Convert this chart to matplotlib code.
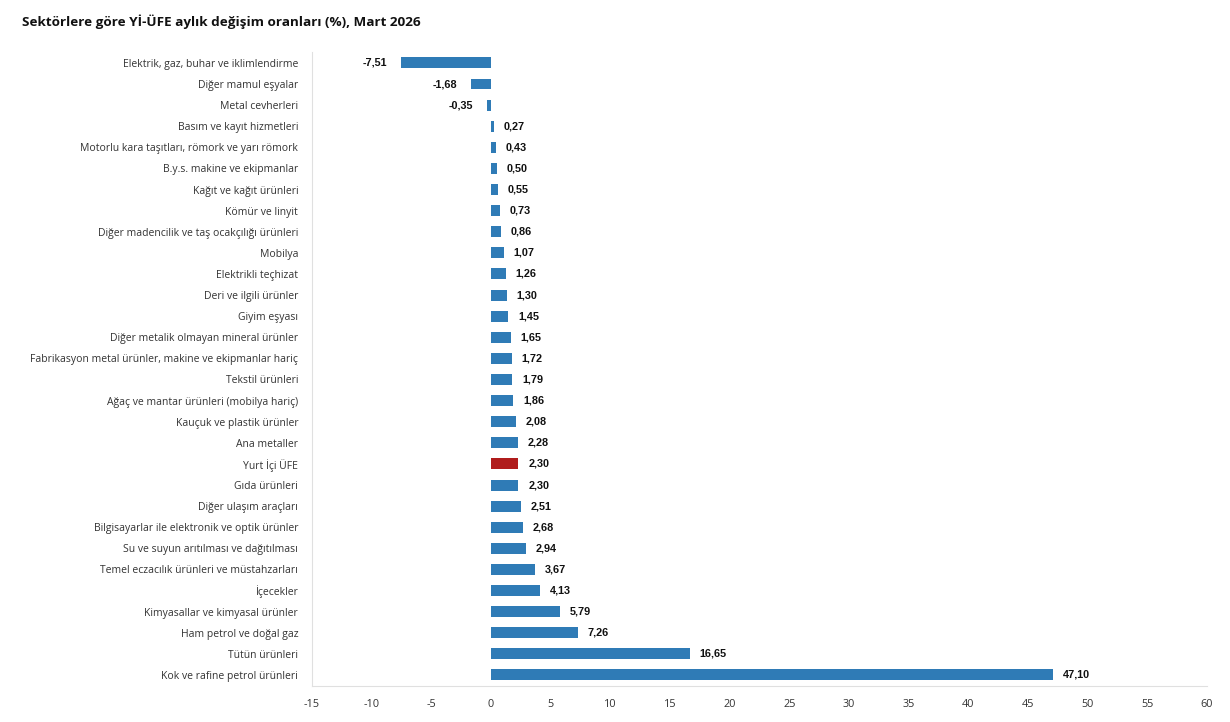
import numpy as np
from matplotlib import pyplot as plt

# Sektörler ve aylık değişim oranları (%)
sektorler = [
    "Elektrik, gaz, buhar ve iklimlendirme",
    "Diğer mamul eşyalar",
    "Metal cevherleri",
    "Basım ve kayıt hizmetleri",
    "Motorlu kara taşıtları, römork ve yarı römork",
    "B.y.s. makine ve ekipmanlar",
    "Kağıt ve kağıt ürünleri",
    "Kömür ve linyit",
    "Diğer madencilik ve taş ocakçılığı ürünleri",
    "Mobilya",
    "Elektrikli teçhizat",
    "Deri ve ilgili ürünler",
    "Giyim eşyası",
    "Diğer metalik olmayan mineral ürünler",
    "Fabrikasyon metal ürünler, makine ve ekipmanlar hariç",
    "Tekstil ürünleri",
    "Ağaç ve mantar ürünleri (mobilya hariç)",
    "Kauçuk ve plastik ürünler",
    "Ana metaller",
    "Yurt İçi ÜFE",
    "Gıda ürünleri",
    "Diğer ulaşım araçları",
    "Bilgisayarlar ile elektronik ve optik ürünler",
    "Su ve suyun arıtılması ve dağıtılması",
    "Temel eczacılık ürünleri ve müstahzarları",
    "İçecekler",
    "Kimyasallar ve kimyasal ürünler",
    "Ham petrol ve doğal gaz",
    "Tütün ürünleri",
    "Kok ve rafine petrol ürünleri",
]
degisim = [-7.51, -1.68, -0.35, 0.27, 0.43, 0.50, 0.55, 0.73, 0.86, 1.07,
           1.26, 1.30, 1.45, 1.65, 1.72, 1.79, 1.86, 2.08, 2.28, 2.30,
           2.30, 2.51, 2.68, 2.94, 3.67, 4.13, 5.79, 7.26, 16.65, 47.10]
x_ticks = list(range(-15, 61, 5))

mavi = "#2f7bb6"
kirmizi = "#b01c1c"
renkler = [kirmizi if s == "Yurt İçi ÜFE" else mavi for s in sektorler]

fig = plt.figure(figsize=(12.3, 7.22), dpi=100)
ax = fig.add_axes([0.2537, 0.0505, 0.7276, 0.877])

y = np.arange(len(sektorler))
ax.barh(y, degisim, height=0.52, color=renkler)
ax.set_ylim(len(sektorler) - 0.5, -0.5)
ax.set_xlim(-15, 60)

for yi, v in zip(y, degisim):
    etiket = f"{v:.2f}".replace(".", ",")
    if v < 0:
        ax.annotate(etiket, (v, yi), xytext=(-10, 0), textcoords="offset points",
                    ha="right", va="center", fontsize=7.8, fontweight="bold",
                    family="Liberation Sans", color="#111111")
    else:
        ax.annotate(etiket, (v, yi), xytext=(7, 0), textcoords="offset points",
                    ha="left", va="center", fontsize=7.8, fontweight="bold",
                    family="Liberation Sans", color="#111111")

ax.set_yticks(y)
ax.set_yticklabels(sektorler, family="Open Sans", fontsize=7.5, color="#333333")
ax.set_xticks(x_ticks)
ax.set_xticklabels([str(t) for t in x_ticks], family="Open Sans", fontsize=7.8, color="#333333")
ax.tick_params(axis="y", length=0, pad=10)
ax.tick_params(axis="x", length=0, pad=10)

for s in ["top", "right"]:
    ax.spines[s].set_visible(False)
ax.spines["left"].set_color("#e0e0e0")
ax.spines["bottom"].set_color("#e0e0e0")

fig.text(22 / 1230, 1 - 22 / 722, "Sektörlere göre Yİ-ÜFE aylık değişim oranları (%), Mart 2026",
         ha="left", va="center", fontsize=9.7, fontweight="bold", family="Open Sans", color="#111111")

fig.savefig("out.png", dpi=100)
